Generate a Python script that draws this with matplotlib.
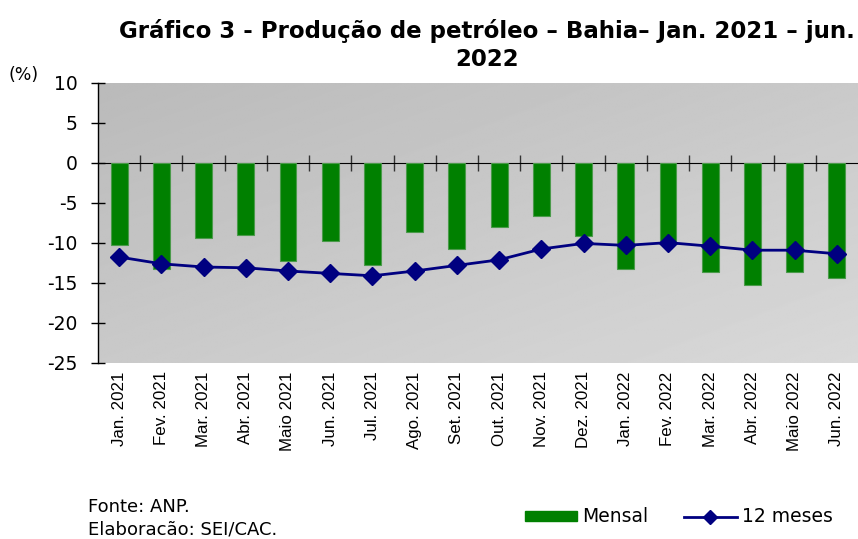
import matplotlib
matplotlib.use("Agg")
import matplotlib.pyplot as plt
import numpy as np
from matplotlib.patches import Patch
from matplotlib.lines import Line2D

# ---- data -----------------------------------------------------------------
meses = ["Jan. 2021", "Fev. 2021", "Mar. 2021", "Abr. 2021", "Maio 2021",
         "Jun. 2021", "Jul. 2021", "Ago. 2021", "Set. 2021", "Out. 2021",
         "Nov. 2021", "Dez. 2021", "Jan. 2022", "Fev. 2022", "Mar. 2022",
         "Abr. 2022", "Maio 2022", "Jun. 2022"]
mensal = [-10.2, -13.3, -9.4, -9.0, -12.2, -9.8, -12.75, -8.6, -10.7, -8.0,
          -6.6, -9.1, -13.3, -9.7, -13.6, -15.25, -13.6, -14.4]
doze_meses = [-11.75, -12.6, -13.0, -13.1, -13.5, -13.8, -14.1, -13.5, -12.8,
              -12.1, -10.75, -10.05, -10.3, -9.95, -10.4, -10.9, -10.9, -11.35]
yticks = [10, 5, 0, -5, -10, -15, -20, -25]

GREEN = "#008000"
NAVY = "#000080"
WIDE = ["DejaVu Sans"]
ARIAL = ["Liberation Sans", "DejaVu Sans"]

plt.rcParams["font.family"] = WIDE

fig = plt.figure(figsize=(8.58, 5.39), dpi=100)
ax = fig.add_axes([98 / 858, 1 - 363 / 539, 760 / 858, 280 / 539])

n = len(meses)
x = np.arange(n)
ymin, ymax = min(yticks), max(yticks)

# diagonal grey gradient: darker top-left, lighter bottom-right
grad = np.linspace(0, 1, 256)
gx, gy = np.meshgrid(grad, grad)
t = (gx + (1 - gy)) / 2
g = 0.73 + 0.12 * t
ax.imshow(g, extent=(0, 1, 0, 1), transform=ax.transAxes, cmap="gray",
          vmin=0, vmax=1, aspect="auto", zorder=0, origin="lower")
ax.patch.set_alpha(0)

ax.bar(x, mensal, width=0.4, color=GREEN, edgecolor="#4a9a4a", linewidth=0.8,
       zorder=2)
ax.plot(x, doze_meses, color=NAVY, lw=2, marker="D", markersize=9.5,
        zorder=3)

ax.set_xlim(-0.5, n - 0.5)
ax.set_ylim(ymin, ymax)
ax.set_yticks(yticks)
ax.set_yticklabels([str(v) for v in yticks], fontsize=13.5)
ax.tick_params(axis="y", direction="inout", length=10, width=1, pad=9.5)

ax.set_xticks(x)
ax.set_xticklabels(meses, rotation=90, fontsize=12.2, family=ARIAL)
ax.tick_params(axis="x", length=0, pad=6)

for side in ["top", "right", "bottom"]:
    ax.spines[side].set_visible(False)
ax.spines["left"].set_linewidth(1)

# zero line with category separators
zero = ax.secondary_xaxis((0 - ymin) / (ymax - ymin))
zero.set_xticks(np.arange(n - 1) + 0.5)
zero.set_xticklabels([])
zero.tick_params(direction="inout", length=12, width=1, color="#333333")
zero.spines["bottom"].set_linewidth(1)

fig.text(487 / 858, 1 - 45 / 539,
         "Gráfico 3 - Produção de petróleo – Bahia– Jan. 2021 – jun.\n2022",
         ha="center", va="center", fontsize=16.5, weight="bold",
         linespacing=1.3)
fig.text(9 / 858, 1 - 75 / 539, "(%)", fontsize=12.5, va="center")

fig.text(88 / 858, 1 - 507 / 539, "Fonte: ANP.", fontsize=13, va="center")
fig.text(88 / 858, 1 - 529 / 539, "Elaboracão: SEI/CAC.", fontsize=13,
         va="center")

handles = [Patch(facecolor=GREEN, edgecolor=GREEN),
           Line2D([], [], color=NAVY, lw=2, marker="D", markersize=7)]
fig.legend(handles, ["Mensal", "12 meses"], loc="center left",
           bbox_to_anchor=(508 / 858, 1 - 517 / 539), ncol=2, frameon=False,
           fontsize=13.5, handlelength=2.8, handleheight=0.5,
           columnspacing=1.9, handletextpad=0.27)

fig.savefig("out.png", dpi=100)
